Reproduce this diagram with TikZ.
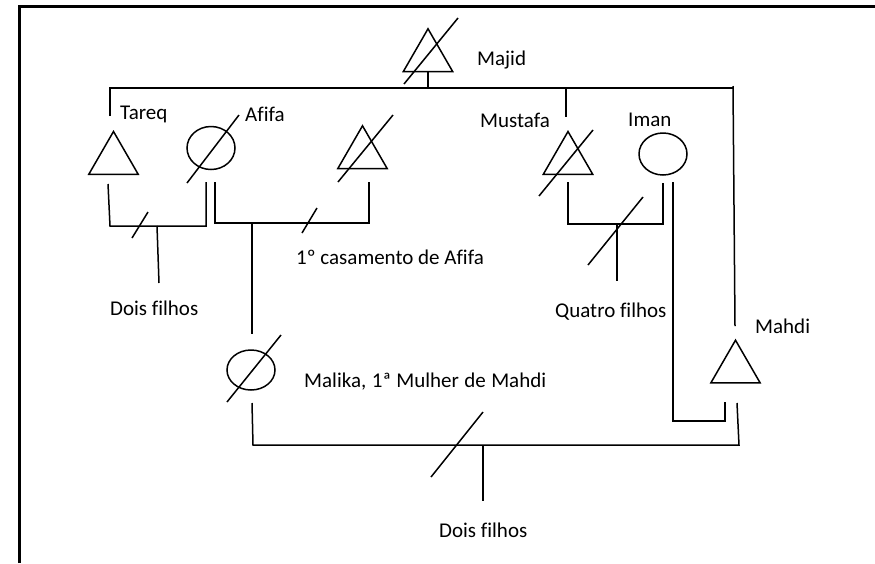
\documentclass[tikz,border=0pt]{standalone}
\usepackage{fontspec}
\setmainfont{Carlito}[Ligatures=NoCommon]
\usetikzlibrary{shapes.geometric}
\tikzset{
  x=1pt, y=-1pt,
  ln/.style={line width=1.5pt, line cap=butt, line join=miter},
  male/.style={draw, line width=1.5pt, regular polygon, regular polygon sides=3, minimum size=57pt, inner sep=0pt, outer sep=0pt},
  female/.style={draw, line width=1.5pt, ellipse, minimum width=48pt, minimum height=43pt, inner sep=0pt, outer sep=0pt},
  lbl/.style={anchor=base west, inner sep=0pt, font=\fontsize{21}{25}\selectfont},
}
\begin{document}
\begin{tikzpicture}
\useasboundingbox (0,0) rectangle (875,563);
% frame
\draw[line width=3pt] (19.5,563) -- (19.5,6.5) -- (875,6.5);

% persons
\node[male] (majid) at (428,57.3) {};
\node[male] (tareq) at (113.5,160) {};
\node[female] (afifa) at (211,148) {};
\node[male] (husb) at (362.5,154.3) {};
\node[male] (mustafa) at (568,160) {};
\node[female, minimum height=42pt] (iman) at (663,154) {};
\node[male] (mahdi) at (735.5,368.7) {};
\node[female, minimum height=40pt] (malika) at (251,370) {};

% deceased slashes
\draw[ln] (404,84) -- (458,18);
\draw[ln] (187,183) -- (239,115);
\draw[ln] (338,182) -- (393,115);
\draw[ln] (539,196) -- (593,130);
\draw[ln] (227,402) -- (281,335);

% labels
\node[lbl] (lmajid) at (477,65) {Majid};
\node[lbl] (ltareq) at (120,119) {Tareq};
\node[lbl] (lafifa) at (245,121) {Afifa};
\node[lbl] (lmustafa) at (480,127) {Mustafa};
\node[lbl] (liman) at (628,126) {Iman};
\node[lbl] (lmahdi) at (755,333) {Mahdi};
\node[lbl] (ldois1) at (110,315) {Dois filhos};
\node[lbl] (lcas) at (296,264) {1º casamento de Afifa};
\node[lbl] (lquatro) at (555,317) {Quatro filhos};
\node[lbl] (lmalika) at (304,387) {\makebox[242pt][s]{Malika, 1ª Mulher de Mahdi}};
\node[lbl] (ldois2) at (439,537) {Dois filhos};

% sibship of Majid
\coordinate (sibL) at (110,88);
\coordinate (sibR) at (733,88);
\draw[ln] (428,72) -- (428,88);
\draw[ln] (110,116) -- (sibL) -- (sibR);
\draw[ln] (566,89) -- (566,117);
\draw[ln] (733,86) -- (735,326);

% Tareq - Afifa
\draw[ln] (108,184) -- (110,226) -- (206,226) -- (206,182);
\draw[ln] (132,238) -- (148,212);
\draw[ln] (157,226) -- (159,283);

% Afifa - first husband
\draw[ln] (215,182) -- (215,223) -- (369,223) -- (369,182);
\draw[ln] (302,233) -- (317,208);
\draw[ln] (252,223) -- (252,334);

% Mustafa - Iman
\draw[ln] (568,182) -- (568,224) -- (663,224) -- (663,183);
\draw[ln] (588,265) -- (643,197);
\draw[ln] (617,224) -- (617,281);

% Iman - Mahdi
\draw[ln] (673,182) -- (673,421) -- (725,421) -- (725,402);

% Malika - Mahdi
\draw[ln] (252,403) -- (253,445) -- (739,445) -- (737,403);
\draw[ln] (431,477) -- (483,412);
\draw[ln] (483,445) -- (483,501);
\end{tikzpicture}
\end{document}
